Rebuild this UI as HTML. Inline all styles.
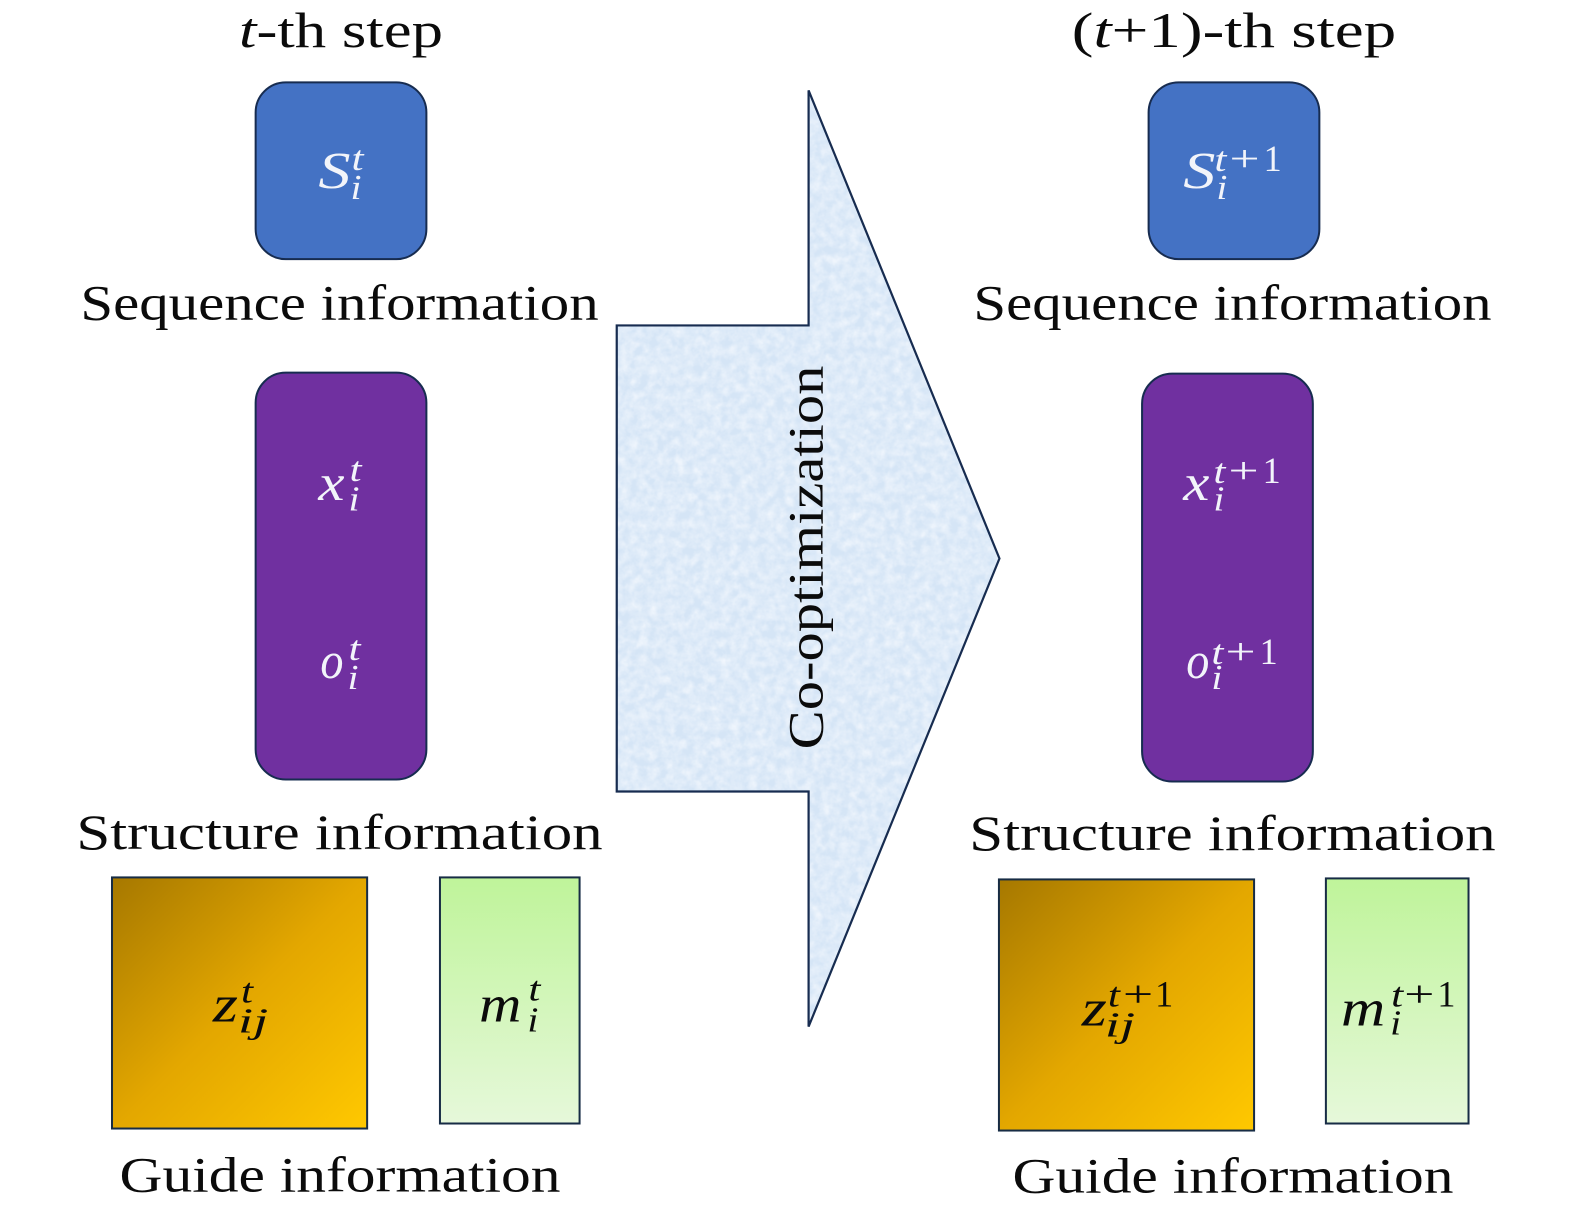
<!DOCTYPE html>
<html><head><meta charset="utf-8"><style>
html,body{margin:0;padding:0;background:#fff}
svg{display:block}
text{font-family:"Liberation Serif",serif}
.m{font-size:52px;font-style:italic}
.s{font-size:35px;font-style:italic}
.r{font-size:37px}
.w{fill:#f2f4fa}.k{fill:#0b0b0b}
</style></head><body>
<svg width="1575" height="1211" viewBox="0 0 1568 1205.6" preserveAspectRatio="none" xmlns="http://www.w3.org/2000/svg">
<defs>
<linearGradient id="g" x1="0" y1="0" x2="1" y2="1"><stop offset="0" stop-color="#a67800"/><stop offset=".5" stop-color="#e3a700"/><stop offset="1" stop-color="#ffc800"/></linearGradient>
<linearGradient id="gr" x1="0" y1="0" x2="0" y2="1"><stop offset="0" stop-color="#bff49a"/><stop offset="1" stop-color="#e6f8da"/></linearGradient>
<filter id="tx" x="0" y="0" width="100%" height="100%"><feTurbulence type="fractalNoise" baseFrequency=".11" numOctaves="3" seed="4"/><feColorMatrix values="0 0 0 0 .95  0 0 0 0 .97  0 0 0 0 1  .8 .8 0 0 -.55"/></filter>
<clipPath id="ac"><polygon points="614,324 805,324 805,90 995,556 805,1022 805,788 614,788"/></clipPath>
</defs>
<rect width="1575" height="1211" fill="#fff"/>

<g class="k" font-size="50">
<text x="238" y="47" font-size="50" textLength="203" lengthAdjust="spacingAndGlyphs"><tspan font-style="italic">t</tspan>-th step</text>
<text x="1067" y="47" font-size="50" textLength="323" lengthAdjust="spacingAndGlyphs">(<tspan font-style="italic">t</tspan>+1)-th step</text>
<text x="80" y="318" font-size="50" textLength="516" lengthAdjust="spacingAndGlyphs">Sequence information</text>
<text x="76" y="845" font-size="50" textLength="524" lengthAdjust="spacingAndGlyphs">Structure information</text>
<text x="119" y="1186" font-size="50" textLength="439" lengthAdjust="spacingAndGlyphs">Guide information</text>
<text x="969" y="318" font-size="50" textLength="516" lengthAdjust="spacingAndGlyphs">Sequence information</text>
<text x="965" y="846" font-size="50" textLength="524" lengthAdjust="spacingAndGlyphs">Structure information</text>
<text x="1008" y="1187" font-size="50" textLength="439" lengthAdjust="spacingAndGlyphs">Guide information</text>
</g>

<!-- left boxes -->
<rect x="254.500" y="82" width="170" height="176" rx="30" fill="#4472c4" stroke="#172c50" stroke-width="2"/>
<rect x="254.500" y="371" width="170" height="405" rx="30" fill="#7030a0" stroke="#172c50" stroke-width="2"/>
<rect x="111.500" y="873.500" width="254" height="250" fill="url(#g)" stroke="#172c45" stroke-width="2"/>
<rect x="438" y="873.500" width="139" height="245" fill="url(#gr)" stroke="#172c45" stroke-width="2"/>

<!-- right boxes -->
<rect x="1143.500" y="82" width="170" height="176" rx="30" fill="#4472c4" stroke="#172c50" stroke-width="2"/>
<rect x="1137" y="372" width="170" height="406" rx="30" fill="#7030a0" stroke="#172c50" stroke-width="2"/>
<rect x="994.500" y="875.500" width="254" height="250" fill="url(#g)" stroke="#172c45" stroke-width="2"/>
<rect x="1320" y="874.500" width="142" height="244" fill="url(#gr)" stroke="#172c45" stroke-width="2"/>

<!-- arrow -->
<polygon points="614,324 805,324 805,90 995,556 805,1022 805,788 614,788" fill="#d5e5f6"/>
<g clip-path="url(#ac)"><rect x="614" y="90" width="381" height="932" filter="url(#tx)"/></g>
<polygon points="614,324 805,324 805,90 995,556 805,1022 805,788 614,788" fill="none" stroke="#172c50" stroke-width="2.200"/>
<text transform="translate(819,746) rotate(-90)" font-size="50" fill="#0b0b0b" textLength="382" lengthAdjust="spacingAndGlyphs">Co-optimization</text>

<!-- left math -->
<g class="w">
<text class="m" x="317" y="187" textLength="32" lengthAdjust="spacingAndGlyphs">S</text><text class="s" x="350" y="169" textLength="12" lengthAdjust="spacingAndGlyphs">t</text><text class="s" x="349" y="198" textLength="11" lengthAdjust="spacingAndGlyphs">i</text>
<text class="m" x="317" y="498" textLength="26" lengthAdjust="spacingAndGlyphs">x</text><text class="s" x="348" y="479" textLength="12" lengthAdjust="spacingAndGlyphs">t</text><text class="s" x="347" y="508" textLength="11" lengthAdjust="spacingAndGlyphs">i</text>
<text class="m" x="319" y="675" textLength="23" lengthAdjust="spacingAndGlyphs">o</text><text class="s" x="347" y="657" textLength="12" lengthAdjust="spacingAndGlyphs">t</text><text class="s" x="346" y="686" textLength="11" lengthAdjust="spacingAndGlyphs">i</text>
</g>
<g class="k">
<text class="m" x="212" y="1017" textLength="25" lengthAdjust="spacingAndGlyphs">z</text><text class="s" x="240" y="998" textLength="12" lengthAdjust="spacingAndGlyphs">t</text><text class="s" x="237" y="1028" textLength="30" lengthAdjust="spacingAndGlyphs">ij</text>
<text class="m" x="477" y="1017" textLength="42" lengthAdjust="spacingAndGlyphs">m</text><text class="s" x="526" y="996" textLength="12" lengthAdjust="spacingAndGlyphs">t</text><text class="s" x="525" y="1027" textLength="11" lengthAdjust="spacingAndGlyphs">i</text>
</g>

<!-- right math -->
<g class="w">
<text class="m" x="1178" y="187" textLength="32" lengthAdjust="spacingAndGlyphs">S</text><text class="s" x="1209" y="170" textLength="12" lengthAdjust="spacingAndGlyphs">t</text><text class="r" x="1224" y="170" textLength="30" lengthAdjust="spacingAndGlyphs">+</text><text class="r" x="1258" y="170" textLength="18" lengthAdjust="spacingAndGlyphs">1</text><text class="s" x="1211" y="198" textLength="11" lengthAdjust="spacingAndGlyphs">i</text>
<text class="m" x="1178" y="498" textLength="26" lengthAdjust="spacingAndGlyphs">x</text><text class="s" x="1208" y="481" textLength="12" lengthAdjust="spacingAndGlyphs">t</text><text class="r" x="1223" y="481" textLength="30" lengthAdjust="spacingAndGlyphs">+</text><text class="r" x="1257" y="481" textLength="18" lengthAdjust="spacingAndGlyphs">1</text><text class="s" x="1208" y="508" textLength="11" lengthAdjust="spacingAndGlyphs">i</text>
<text class="m" x="1181" y="675" textLength="23" lengthAdjust="spacingAndGlyphs">o</text><text class="s" x="1206" y="661" textLength="12" lengthAdjust="spacingAndGlyphs">t</text><text class="r" x="1220" y="661" textLength="30" lengthAdjust="spacingAndGlyphs">+</text><text class="r" x="1254" y="661" textLength="18" lengthAdjust="spacingAndGlyphs">1</text><text class="s" x="1206" y="686" textLength="11" lengthAdjust="spacingAndGlyphs">i</text>
</g>
<g class="k">
<text class="m" x="1077" y="1021" textLength="25" lengthAdjust="spacingAndGlyphs">z</text><text class="s" x="1103" y="1002" textLength="12" lengthAdjust="spacingAndGlyphs">t</text><text class="r" x="1118" y="1002" textLength="30" lengthAdjust="spacingAndGlyphs">+</text><text class="r" x="1150" y="1002" textLength="18" lengthAdjust="spacingAndGlyphs">1</text><text class="s" x="1100" y="1032" textLength="30" lengthAdjust="spacingAndGlyphs">ij</text>
<text class="m" x="1335" y="1021" textLength="44" lengthAdjust="spacingAndGlyphs">m</text><text class="s" x="1385" y="1002" textLength="12" lengthAdjust="spacingAndGlyphs">t</text><text class="r" x="1398" y="1002" textLength="30" lengthAdjust="spacingAndGlyphs">+</text><text class="r" x="1431" y="1002" textLength="18" lengthAdjust="spacingAndGlyphs">1</text><text class="s" x="1384" y="1030" textLength="11" lengthAdjust="spacingAndGlyphs">i</text>
</g>
</svg>
</body></html>
